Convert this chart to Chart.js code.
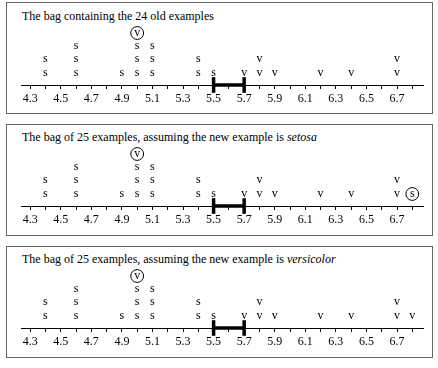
<!DOCTYPE html>
<html>
<head>
<meta charset="utf-8">
<script src="https://cdn.jsdelivr.net/npm/chart.js@4"></script>
<style>
  body { margin: 0; background: #fff; width: 438px; height: 368px; position: relative;
         font-family: "Liberation Serif", "Times New Roman", serif; }
  .panel { position: absolute; left: 6px; width: 425px; height: 110px; border: 1px solid #666; overflow: hidden; }
  .panel .title { position: absolute; left: 15px; top: 6px; font-size: 12px; line-height: 14px;
                  color: #000; white-space: nowrap; }
  .panel canvas { position: absolute; left: 0; top: 0; }
  .panel.up .title { top: 5px; }
  .panel.up canvas { top: -1px; }
</style>
</head>
<body>
<div class="panel" style="top:2px">
  <div class="title">The bag containing the 24 old examples</div>
  <canvas id="bag-old" width="425" height="108"></canvas>
</div>
<div class="panel up" style="top:124px">
  <div class="title">The bag of 25 examples, assuming the new example is <i>setosa</i></div>
  <canvas id="bag-setosa" width="425" height="108"></canvas>
</div>
<div class="panel up" style="top:246px">
  <div class="title">The bag of 25 examples, assuming the new example is <i>versicolor</i></div>
  <canvas id="bag-versicolor" width="425" height="108"></canvas>
</div>

<script>
// sepal lengths of the 24 old examples
const setosaLengths = [4.4, 4.4, 4.6, 4.6, 4.6, 4.9, 5.0, 5.0, 5.0, 5.1, 5.1, 5.1, 5.4, 5.4, 5.5];
const versicolorLengths = [5.7, 5.8, 5.8, 5.9, 6.2, 6.4, 6.7, 6.7];
const circledOldLength = [5.0];          // the odd versicolor, circled
// the new example, with the label it is assumed to have
const newLength = 6.8;
const panelIds = ['bag-old', 'bag-setosa', 'bag-versicolor'];
const newLabels = [null, 's', 'v'];
const newCircled = [false, true, false];
// prediction interval drawn on the axis
const intervalEnds = [5.5, 5.7];
const xTickLabels = ['4.3', '4.5', '4.7', '4.9', '5.1', '5.3', '5.5', '5.7', '5.9', '6.1', '6.3', '6.5', '6.7'];

const X_MIN = 4.24, X_MAX = 6.87;
const Y_MIN = 0.1, Y_MAX = 6.1;
const FONT = '"Liberation Serif", "Times New Roman", serif';

Chart.defaults.font.family = FONT;
Chart.defaults.color = '#000';

// draws each point as its letter (s / v), circled when flagged
const letterPoints = {
  id: 'letterPoints',
  afterDatasetsDraw(chart) {
    const ctx = chart.ctx;
    ctx.save();
    ctx.fillStyle = '#000';
    ctx.strokeStyle = '#000';
    ctx.lineWidth = 1;
    ctx.font = '12px ' + FONT;
    ctx.textAlign = 'center';
    ctx.textBaseline = 'alphabetic';
    chart.data.datasets.forEach((ds, i) => {
      if (!ds.letter) return;
      chart.getDatasetMeta(i).data.forEach((el) => {
        ctx.fillText(ds.letter, el.x, el.y + 2.8);
        if (ds.circled) {
          ctx.beginPath();
          ctx.arc(el.x, el.y, 6.4, 0, Math.PI * 2);
          ctx.stroke();
        }
      });
    });
    ctx.restore();
  },
};

// stack points that share a length: first one sits on level 1, next on level 2 ...
function stackPoints(items) {
  const seen = {};
  return items.map((it) => {
    const key = it.x.toFixed(1);
    seen[key] = (seen[key] || 0) + 1;
    return { ...it, y: seen[key] };
  });
}

function buildPanel(canvasId, newLabel, circleNew) {
  const items = [];
  setosaLengths.forEach((x) => items.push({ x, label: 's', circled: false }));
  circledOldLength.forEach((x) => items.push({ x, label: 'v', circled: true }));
  versicolorLengths.forEach((x) => items.push({ x, label: 'v', circled: false }));
  if (newLabel) items.push({ x: newLength, label: newLabel, circled: circleNew });
  const pts = stackPoints(items);

  const kinds = [['s', false], ['v', false], ['s', true], ['v', true]];
  const datasets = kinds
    .map(([lab, circ]) => ({
      type: 'scatter',
      letter: lab,
      circled: circ,
      data: pts.filter((p) => p.label === lab && p.circled === circ).map((p) => ({ x: p.x, y: p.y })),
      pointRadius: 0,
      pointHoverRadius: 0,
    }))
    .filter((d) => d.data.length);

  datasets.push({
    type: 'line',
    data: intervalEnds.map((x) => ({ x, y: Y_MIN })),
    borderColor: '#000',
    borderWidth: 3.5,
    pointStyle: 'line',
    rotation: 90,
    pointRadius: 7.8,
    pointBorderWidth: 3.5,
    pointBorderColor: '#000',
    clip: false,
  });

  new Chart(document.getElementById(canvasId), {
    type: 'scatter',
    data: { datasets },
    plugins: [letterPoints],
    options: {
      responsive: false,
      animation: false,
      devicePixelRatio: 1,
      layout: { autoPadding: false, padding: { left: 14, right: 9, top: 2, bottom: 4 } },
      plugins: { legend: { display: false }, tooltip: { enabled: false } },
      scales: {
        x: {
          type: 'linear',
          min: X_MIN,
          max: X_MAX,
          afterFit(scale) { scale.height = 22; },
          border: { display: true, color: '#000', width: 1 },
          grid: { display: true, drawOnChartArea: false, drawTicks: true, tickLength: 4, color: '#000', lineWidth: 1 },
          ticks: {
            stepSize: 0.1,
            autoSkip: false,
            includeBounds: false,
            maxRotation: 0,
            padding: 3,
            color: '#000',
            font: { family: FONT, size: 12 },
            callback(v) {
              const s = Number(v).toFixed(1);
              return xTickLabels.includes(s) ? s : '';
            },
          },
        },
        y: { type: 'linear', display: false, min: Y_MIN, max: Y_MAX },
      },
    },
  });
}

panelIds.forEach((id, i) => buildPanel(id, newLabels[i], newCircled[i]));
</script>
</body>
</html>
